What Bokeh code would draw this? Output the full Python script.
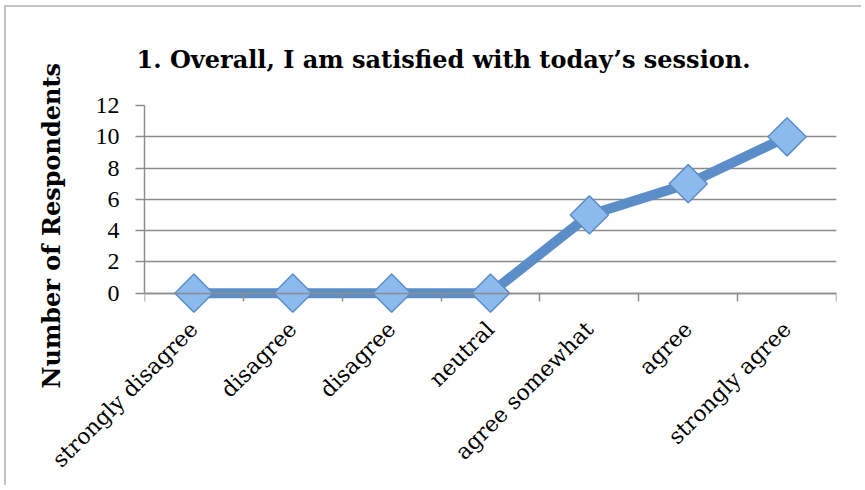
from math import pi
from bokeh.plotting import figure
from bokeh.models import LinearAxis, FixedTicker, Range1d, Title
from bokeh.embed import file_html
from bokeh.resources import INLINE

title_text = "1. Overall, I am satisfied with today\u2019s session."
y_title = "Number of Respondents"
categories = ["strongly disagree", "disagree", "disagree", "neutral",
              "agree somewhat", "agree", "strongly agree"]
counts = [0, 0, 0, 0, 5, 7, 10]
y_ticks = [0, 2, 4, 6, 8, 10, 12]

xs = list(range(1, len(categories) + 1))
bounds_ticks = [x - 0.5 for x in xs] + [xs[-1] + 0.5]

SERIF = "Liberation Serif"
WIDE = "DejaVu Serif"
GRID = "#8c8c8c"

p = figure(width=857, height=480, output_backend="svg", toolbar_location=None,
           x_range=Range1d(0.5, 7.5), y_range=Range1d(-1.3, 12),
           min_border_left=138, min_border_right=27, min_border_top=98,
           min_border_bottom=174,
           styles={"border-left": "2px solid #c4c4c4", "border-top": "2px solid #c4c4c4",
                   "margin-left": "4px", "margin-top": "5px"})
p.outline_line_color = None
p.background_fill_color = "white"
p.border_fill_color = "white"

# title
p.title.text = title_text
p.title.text_font = WIDE
p.title.text_font_size = "24px"
p.title.text_font_style = "bold"
p.title.text_color = "black"
p.title.align = "left"
p.title.offset = -8
p.title.standoff = 64

# x label axis (category names)
xa = p.xaxis[0]
xa.ticker = FixedTicker(ticks=xs)
xa.major_label_overrides = {x: c for x, c in zip(xs, categories)}
xa.major_label_orientation = pi / 4
xa.major_label_text_font = WIDE
xa.major_label_text_font_size = "22px"
xa.major_label_text_color = "black"
xa.major_label_standoff = 6
xa.axis_line_color = None
xa.major_tick_line_color = None
xa.minor_tick_line_color = None

# x axis line at y = 0 with ticks at the category boundaries (minor ticks only, no labels)
xt = LinearAxis(ticker=FixedTicker(ticks=[], minor_ticks=bounds_ticks), fixed_location=0,
                axis_line_color=GRID, axis_line_width=1.5,
                major_tick_line_color=None,
                minor_tick_line_color=GRID, minor_tick_line_width=1.5,
                minor_tick_in=0, minor_tick_out=8)
p.add_layout(xt, "below")

# y axis
ya = p.yaxis[0]
ya.ticker = FixedTicker(ticks=y_ticks)
ya.bounds = (0, 12)
ya.axis_line_color = GRID
ya.axis_line_width = 1.5
ya.major_tick_line_color = GRID
ya.major_tick_line_width = 1.5
ya.major_tick_in = 0
ya.major_tick_out = 9
ya.minor_tick_line_color = None
ya.major_label_text_font = SERIF
ya.major_label_text_font_size = "24px"
ya.major_label_text_color = "black"
ya.major_label_standoff = 16

# y title as a side title, shifted to start where the reference's starts
yt = Title(text=y_title, align="left", offset=-75, standoff=54,
           text_font=WIDE, text_font_size="24px", text_font_style="bold",
           text_color="black")
p.add_layout(yt, "left")

p.xgrid.visible = False
p.ygrid.ticker = FixedTicker(ticks=y_ticks)
p.ygrid.grid_line_color = GRID
p.ygrid.grid_line_width = 1.5

p.line(xs, counts, line_width=10, line_color="#5b8ec8", line_join="round")
p.scatter(xs, counts, marker="square", angle=pi / 4, size=27,
          fill_color="#8dbaec", line_color="#5a8dc8", line_width=1.5)

open("out.html", "w").write(file_html(p, INLINE))
